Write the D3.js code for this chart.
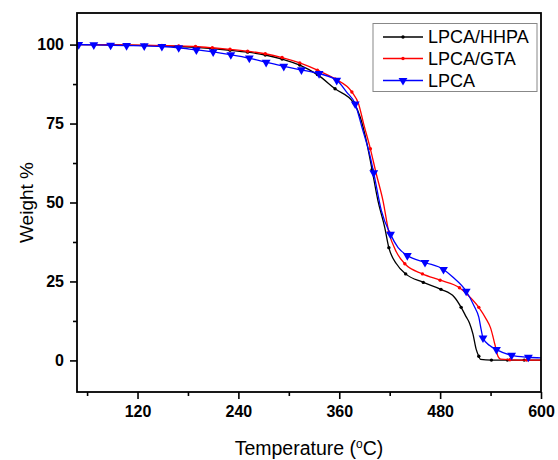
<!DOCTYPE html>
<html>
<head>
<meta charset="utf-8">
<script src="https://cdn.jsdelivr.net/npm/d3@7/dist/d3.min.js"></script>
<style>
  html, body { margin: 0; padding: 0; background: #fff; }
  svg { display: block; font-family: "Liberation Sans", Arial, sans-serif; }
</style>
</head>
<body>
<svg id="chart" width="558" height="460"></svg>
<script>
// ---- data ----
const seriesNames = ["LPCA/HHPA", "LPCA/GTA", "LPCA"];

// LPCA/HHPA (black)
const hhpaT = [50, 68, 88, 107, 128, 149, 169, 189, 209, 230, 251, 272, 292, 313, 334, 355, 377, 385, 393, 399, 406, 414, 419, 428, 439, 460, 481, 497, 505, 511, 515, 519, 523, 526, 528, 541, 560, 580, 600];
const hhpaW = [100, 100, 99.9, 99.8, 99.7, 99.6, 99.4, 99.1, 98.7, 98.2, 97.6, 96.7, 95.4, 93.5, 90.5, 86.0, 81.6, 77.0, 68.6, 60.4, 50.6, 42.2, 35.7, 30.6, 27.4, 24.7, 22.5, 20.0, 16.8, 13.8, 11.8, 8.4, 3.4, 1.3, 0.3, 0.1, 0.1, 0.1, 0.1];
const hhpaM = [1, 1, 1, 1, 1, 1, 1, 1, 1, 1, 1, 1, 1, 1, 1, 1, 1, 0, 0, 1, 0, 0, 1, 0, 1, 1, 1, 0, 1, 0, 0, 0, 0, 1, 0, 1, 1, 1, 0];

// LPCA/GTA (red)
const gtaT = [50, 68, 88, 107, 128, 149, 169, 189, 209, 230, 251, 272, 292, 313, 334, 355, 375, 383, 389, 397, 404, 412, 419, 428, 438, 459, 480, 503, 511, 526, 535, 540, 543, 545, 549, 552, 563, 583, 600];
const gtaW = [100, 100, 99.9, 99.9, 99.8, 99.7, 99.6, 99.4, 99.0, 98.5, 97.9, 97.1, 95.9, 94.2, 91.9, 89.1, 85.0, 81.2, 74.9, 67.0, 59.1, 50.6, 40.6, 34.3, 30.6, 27.4, 25.4, 23.0, 21.2, 16.8, 13.0, 10.3, 7.4, 5.2, 1.2, 0.4, 0.2, 0.1, 0.1];
const gtaM = [1, 1, 1, 1, 1, 1, 1, 1, 1, 1, 1, 1, 1, 1, 1, 1, 1, 0, 0, 1, 0, 0, 1, 0, 1, 1, 1, 1, 0, 1, 0, 0, 0, 0, 0, 0, 1, 1, 0];

// LPCA (blue)
const lpcaT = [50, 68, 88, 107, 128, 149, 169, 190, 210, 231, 253, 273, 294, 315, 336, 357, 369, 379, 387, 397, 401, 410, 421, 430, 441, 462, 484, 495, 511, 521, 526, 529, 531, 539, 547, 565, 585, 600];
const lpcaW = [100, 99.9, 99.8, 99.7, 99.6, 99.4, 99.0, 98.3, 97.7, 96.8, 95.7, 94.4, 93.1, 92.0, 90.8, 88.7, 84.9, 81.2, 73.8, 64.3, 59.4, 47.5, 39.9, 35.7, 33.2, 31.0, 28.8, 26.4, 21.9, 16.9, 13.7, 9.5, 7.1, 4.7, 3.4, 1.6, 1.0, 0.8];
const lpcaM = [1, 1, 1, 1, 1, 1, 1, 1, 1, 1, 1, 1, 1, 1, 1, 1, 0, 1, 0, 0, 1, 0, 1, 0, 1, 1, 1, 0, 1, 0, 0, 0, 1, 0, 1, 1, 1, 0];

const xMajorTicks = [120, 240, 360, 480, 600];
const xMinorTicks = [60, 180, 300, 420, 540];
const yMajorTicks = [0, 25, 50, 75, 100];
const yMinorTicks = [12.5, 37.5, 62.5, 87.5];

// ---- layout ----
const svg = d3.select("#chart");
const L = 77, R = 541, T = 13, B = 392;
const x = d3.scaleLinear().domain([48, 600]).range([L, R]);
const y = d3.scaleLinear().domain([-10, 110]).range([B, T]);

const series = [
  { name: seriesNames[0], t: hhpaT, w: hhpaW, m: hhpaM, color: "#000000", marker: "dot" },
  { name: seriesNames[1], t: gtaT, w: gtaW, m: gtaM, color: "#ff0000", marker: "dot" },
  { name: seriesNames[2], t: lpcaT, w: lpcaW, m: lpcaM, color: "#0000ff", marker: "tri" }
];

const plot = svg.append("g");
plot.append("defs").append("clipPath").attr("id", "clip")
  .append("rect").attr("x", L).attr("y", T).attr("width", R - L).attr("height", B - T);

const line = d3.line().x(d => x(d[0])).y(d => y(d[1])).curve(d3.curveMonotoneX);
const tri = d3.symbol().type(d3.symbolTriangle).size(34);

function drawMarker(g, s, px, py) {
  if (s.marker === "dot") {
    g.append("circle").attr("cx", px).attr("cy", py).attr("r", 1.7).attr("fill", s.color);
  } else {
    g.append("path").attr("d", tri).attr("transform", `translate(${px},${py}) rotate(180)`).attr("fill", s.color);
  }
}

series.forEach(s => {
  const pts = s.t.map((t, i) => [t, s.w[i], s.m[i]]);
  const g = plot.append("g").attr("clip-path", "url(#clip)");
  g.append("path").datum(pts).attr("d", line)
    .attr("fill", "none").attr("stroke", s.color).attr("stroke-width", 1.3);
  pts.filter(p => p[2] === 1).forEach(p => drawMarker(g, s, x(p[0]), y(p[1])));
});

// ---- axes ----
const axisG = svg.append("g");
const xAxis = d3.axisBottom(x).tickValues(xMajorTicks).tickSize(7).tickPadding(7).tickFormat(d3.format("d"));
const xAxisMinor = d3.axisBottom(x).tickValues(xMinorTicks).tickSize(4).tickFormat("");
const yAxis = d3.axisLeft(y).tickValues(yMajorTicks).tickSize(7).tickPadding(6).tickFormat(d3.format("d"));
const yAxisMinor = d3.axisLeft(y).tickValues(yMinorTicks).tickSize(4).tickFormat("");

function styleAxis(g) {
  g.select(".domain").remove();
  g.selectAll(".tick line").attr("stroke", "#000").attr("stroke-width", 1.6);
  g.selectAll(".tick text").attr("fill", "#000").style("font-size", "16px").style("font-weight", "bold")
    .style("font-family", "'Liberation Sans', Arial, sans-serif");
}
axisG.append("g").attr("transform", `translate(0,${B})`).call(xAxis).call(styleAxis);
axisG.append("g").attr("transform", `translate(0,${B})`).call(xAxisMinor).call(styleAxis);
axisG.append("g").attr("transform", `translate(${L},0)`).call(yAxis).call(styleAxis);
axisG.append("g").attr("transform", `translate(${L},0)`).call(yAxisMinor).call(styleAxis);

// frame
svg.append("rect").attr("x", L).attr("y", T).attr("width", R - L).attr("height", B - T)
  .attr("fill", "none").attr("stroke", "#000").attr("stroke-width", 1.8);

// axis titles
svg.append("text").attr("transform", `translate(26,${(T + B) / 2}) rotate(-90)`)
  .attr("text-anchor", "middle").attr("dominant-baseline", "central")
  .style("font-size", "19px").text("Weight %");

const xt = svg.append("text").attr("x", (L + R) / 2).attr("y", 455)
  .attr("text-anchor", "middle").style("font-size", "19.5px");
xt.append("tspan").text("Temperature (");
xt.append("tspan").attr("dy", -7).style("font-size", "12px").text("o");
xt.append("tspan").attr("dy", 7).text("C)");

// legend
const lg = svg.append("g");
lg.append("rect").attr("x", 373).attr("y", 23.5).attr("width", 164).attr("height", 68)
  .attr("fill", "#fff").attr("stroke", "#888").attr("stroke-width", 1);
const rows = [37, 58.5, 80.5];
series.forEach((s, i) => {
  lg.append("line").attr("x1", 383).attr("x2", 423).attr("y1", rows[i]).attr("y2", rows[i])
    .attr("stroke", s.color).attr("stroke-width", 1.3);
  drawMarker(lg, s, 403, rows[i]);
  lg.append("text").attr("x", 428).attr("y", rows[i]).attr("dominant-baseline", "central")
    .style("font-size", "18px").text(s.name);
});
</script>
</body>
</html>
